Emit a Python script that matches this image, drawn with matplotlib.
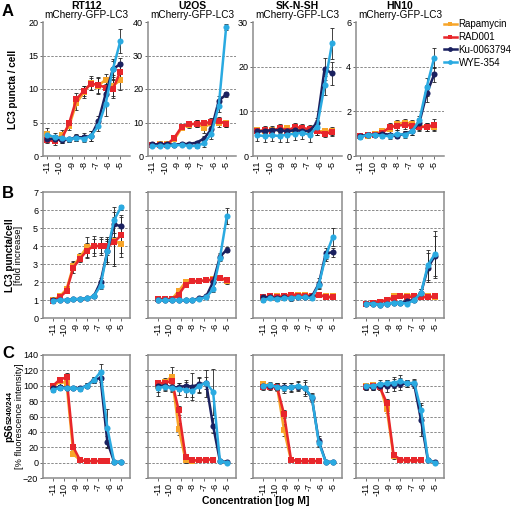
import numpy as np
import matplotlib.pyplot as plt
from matplotlib.lines import Line2D

plt.rcParams['font.family'] = ['Liberation Sans', 'DejaVu Sans']

# concentrations (log M), 4-fold dilution series
log_conc = [-11.0, -10.4, -9.8, -9.2, -8.6, -8.0, -7.4, -6.8, -6.2, -5.6, -5.0]
cell_lines = ['RT112', 'U2OS', 'SK-N-SH', 'HN10']
drugs = ['Rapamycin', 'RAD001', 'Ku-0063794', 'WYE-354']
colors = {'Rapamycin': '#F7A52A', 'RAD001': '#E8262B', 'Ku-0063794': '#1B2160', 'WYE-354': '#2AAAE1'}
markers = {'Rapamycin': 's', 'RAD001': 's', 'Ku-0063794': 'o', 'WYE-354': 'o'}

# --- A: LC3 puncta / cell ---
a_rt112 = {'Rapamycin': [3.3, 2.5, 3.1, 4.5, 7.9, 9.5, 10.9, 10.5, 11.4, 10.5, 11.3],
           'RAD001': [2.4, 2.2, 2.6, 4.9, 8.5, 9.7, 10.8, 10.6, 10.2, 10.0, 12.6],
           'Ku-0063794': [2.5, 2.6, 2.4, 2.5, 2.8, 2.8, 3.0, 5.2, 9.3, 13.0, 13.7],
           'WYE-354': [3.2, 2.8, 2.7, 2.5, 2.7, 2.6, 3.0, 4.5, 7.8, 13.0, 17.1]}
a_rt112_err = {'Rapamycin': [0.9, 0.6, 0.8, 0.6, 1.0, 0.9, 1.0, 1.2, 0.9, 1.6, 1.4],
               'RAD001': [0.4, 0.5, 0.6, 0.5, 0.9, 0.8, 0.9, 1.2, 1.0, 1.3, 1.5],
               'Ku-0063794': [0.4, 0.5, 0.5, 0.4, 0.5, 0.6, 0.7, 0.8, 1.5, 1.2, 1.0],
               'WYE-354': [0.6, 0.7, 0.5, 0.4, 0.5, 0.5, 0.8, 0.7, 1.8, 1.5, 1.8]}
a_u2os = {'Rapamycin': [3.4, 3.5, 3.6, 5.0, 8.5, 9.4, 9.7, 8.5, 9.8, 10.0, 9.8],
          'RAD001': [3.3, 3.4, 3.4, 5.5, 8.8, 9.5, 9.6, 9.8, 10.2, 10.5, 9.6],
          'Ku-0063794': [3.5, 3.5, 3.5, 3.4, 3.6, 3.6, 4.0, 5.2, 8.0, 16.5, 18.4],
          'WYE-354': [3.0, 3.0, 3.0, 3.2, 3.3, 3.0, 3.0, 3.8, 6.7, 15.0, 38.5]}
a_u2os_err = {'Rapamycin': [0.4, 0.4, 0.4, 0.6, 0.8, 0.9, 1.0, 1.5, 1.0, 1.2, 1.0],
              'RAD001': [0.3, 0.3, 0.3, 0.5, 0.7, 0.8, 1.0, 1.0, 1.2, 1.0, 1.0],
              'Ku-0063794': [0.4, 0.4, 0.4, 0.4, 0.5, 0.5, 0.6, 0.8, 1.2, 1.5, 0.8],
              'WYE-354': [0.4, 0.4, 0.4, 0.4, 0.4, 0.4, 0.5, 1.2, 1.5, 1.8, 0.8]}
a_sknsh = {'Rapamycin': [5.8, 5.5, 5.8, 6.0, 6.2, 5.8, 6.0, 5.8, 5.6, 5.5, 5.7],
           'RAD001': [5.5, 5.8, 5.6, 6.3, 5.6, 6.5, 6.3, 6.0, 5.5, 5.0, 5.3],
           'Ku-0063794': [5.5, 5.6, 5.8, 5.8, 5.5, 5.8, 5.6, 5.6, 7.5, 19.5, 18.5],
           'WYE-354': [4.6, 4.5, 4.6, 4.5, 4.8, 5.0, 5.2, 4.8, 6.6, 15.8, 25.2]}
a_sknsh_err = {'Rapamycin': [0.8, 0.9, 0.8, 0.9, 0.8, 0.9, 0.8, 0.9, 0.8, 0.8, 0.9],
               'RAD001': [0.8, 0.9, 0.8, 0.9, 0.8, 0.9, 0.8, 0.9, 0.8, 0.8, 0.9],
               'Ku-0063794': [0.8, 0.9, 0.9, 0.9, 0.9, 0.9, 0.9, 0.8, 1.0, 2.5, 2.5],
               'WYE-354': [1.2, 1.3, 1.2, 1.3, 1.6, 1.5, 1.3, 1.6, 1.4, 2.2, 3.5]}
a_hn10 = {'Rapamycin': [0.9, 0.9, 1.0, 1.1, 1.2, 1.45, 1.5, 1.45, 1.35, 1.3, 1.3],
          'RAD001': [0.9, 0.95, 0.95, 1.05, 1.3, 1.35, 1.4, 1.35, 1.3, 1.3, 1.4],
          'Ku-0063794': [0.9, 0.95, 0.95, 1.0, 0.95, 0.9, 1.0, 1.1, 1.5, 2.8, 3.65],
          'WYE-354': [0.85, 0.95, 0.95, 0.9, 0.9, 1.0, 0.95, 1.1, 1.6, 3.1, 4.4]}
a_hn10_err = {'Rapamycin': [0.1, 0.1, 0.1, 0.15, 0.15, 0.15, 0.15, 0.15, 0.2, 0.2, 0.2],
              'RAD001': [0.1, 0.1, 0.1, 0.15, 0.2, 0.2, 0.2, 0.2, 0.2, 0.2, 0.25],
              'Ku-0063794': [0.1, 0.1, 0.1, 0.1, 0.1, 0.1, 0.1, 0.15, 0.2, 0.4, 0.35],
              'WYE-354': [0.1, 0.1, 0.1, 0.1, 0.15, 0.15, 0.15, 0.15, 0.2, 0.4, 0.45]}

# --- B: LC3 puncta / cell, fold increase ---
b_rt112 = {'Rapamycin': [1.0, 1.2, 1.6, 2.9, 3.4, 3.95, 4.0, 4.0, 4.0, 4.3, 4.1],
           'RAD001': [0.95, 1.15, 1.5, 2.8, 3.3, 3.75, 4.0, 4.0, 4.0, 4.2, 4.6],
           'Ku-0063794': [1.0, 1.0, 1.0, 1.05, 1.05, 1.1, 1.2, 2.0, 3.7, 5.2, 5.1],
           'WYE-354': [0.95, 1.0, 1.0, 1.05, 1.05, 1.1, 1.2, 1.8, 3.7, 5.45, 6.15]}
b_rt112_err = {'Rapamycin': [0.05, 0.05, 0.1, 0.25, 0.2, 0.55, 0.55, 0.5, 0.5, 1.3, 0.7],
               'RAD001': [0.05, 0.05, 0.1, 0.3, 0.2, 0.4, 0.4, 0.4, 0.4, 1.3, 1.0],
               'Ku-0063794': [0.05, 0.05, 0.05, 0.05, 0.05, 0.05, 0.1, 0.2, 0.6, 0.7, 0.6],
               'WYE-354': [0.05, 0.05, 0.05, 0.05, 0.05, 0.05, 0.1, 0.2, 0.7, 0.7, 0.15]}
b_u2os = {'Rapamycin': [1.05, 1.05, 1.05, 1.5, 2.0, 2.05, 2.05, 2.1, 2.15, 2.2, 2.05],
          'RAD001': [1.05, 1.05, 1.05, 1.3, 1.85, 2.05, 2.05, 2.1, 2.1, 2.25, 2.1],
          'Ku-0063794': [1.0, 1.0, 1.0, 1.0, 0.98, 1.0, 1.1, 1.2, 2.0, 3.4, 3.8],
          'WYE-354': [0.98, 0.98, 1.0, 1.0, 1.0, 1.0, 1.05, 1.15, 1.6, 3.35, 5.65]}
b_u2os_err = {'Rapamycin': [0.05, 0.05, 0.05, 0.1, 0.1, 0.1, 0.1, 0.1, 0.1, 0.1, 0.15],
              'RAD001': [0.05, 0.05, 0.05, 0.1, 0.1, 0.1, 0.1, 0.1, 0.1, 0.1, 0.15],
              'Ku-0063794': [0.05, 0.05, 0.05, 0.05, 0.05, 0.05, 0.05, 0.1, 0.1, 0.2, 0.15],
              'WYE-354': [0.05, 0.05, 0.05, 0.05, 0.05, 0.05, 0.05, 0.1, 0.15, 0.2, 0.45]}
b_sknsh = {'Rapamycin': [1.1, 1.15, 1.2, 1.25, 1.3, 1.3, 1.3, 1.25, 1.3, 1.2, 1.2],
           'RAD001': [1.15, 1.2, 1.15, 1.2, 1.3, 1.25, 1.25, 1.2, 1.3, 1.15, 1.15],
           'Ku-0063794': [1.15, 1.15, 1.1, 1.15, 1.1, 1.15, 1.15, 1.2, 1.9, 3.6, 3.65],
           'WYE-354': [1.0, 1.1, 1.05, 1.1, 1.1, 1.15, 1.15, 1.1, 1.85, 3.45, 4.5]}
b_sknsh_err = {'Rapamycin': [0.1, 0.1, 0.1, 0.1, 0.1, 0.1, 0.1, 0.1, 0.1, 0.1, 0.1],
               'RAD001': [0.1, 0.1, 0.1, 0.1, 0.1, 0.1, 0.1, 0.1, 0.1, 0.1, 0.1],
               'Ku-0063794': [0.1, 0.1, 0.1, 0.1, 0.1, 0.1, 0.1, 0.1, 0.3, 0.3, 0.25],
               'WYE-354': [0.1, 0.1, 0.1, 0.1, 0.15, 0.1, 0.1, 0.1, 0.2, 0.3, 0.5]}
b_hn10 = {'Rapamycin': [0.8, 0.85, 0.9, 1.0, 1.2, 1.2, 1.25, 1.25, 1.2, 1.2, 1.15],
          'RAD001': [0.8, 0.85, 0.9, 1.0, 1.1, 1.2, 1.15, 1.2, 1.15, 1.15, 1.2],
          'Ku-0063794': [0.8, 0.8, 0.75, 0.8, 0.85, 0.85, 0.95, 1.0, 1.4, 2.8, 3.45],
          'WYE-354': [0.8, 0.8, 0.75, 0.8, 0.85, 0.85, 0.8, 1.0, 1.4, 2.95, 3.55]}
b_hn10_err = {'Rapamycin': [0.05, 0.05, 0.05, 0.1, 0.1, 0.1, 0.1, 0.1, 0.1, 0.1, 0.1],
              'RAD001': [0.05, 0.05, 0.05, 0.1, 0.1, 0.1, 0.1, 0.1, 0.1, 0.1, 0.1],
              'Ku-0063794': [0.05, 0.05, 0.05, 0.05, 0.1, 0.1, 0.1, 0.1, 0.2, 0.8, 1.1],
              'WYE-354': [0.05, 0.05, 0.05, 0.05, 0.1, 0.1, 0.1, 0.1, 0.2, 0.85, 1.3]}

# --- C: pS6 S240/244 (% fluorescence intensity); rapalogs tested up to -6.2 ---
c_rt112 = {'Rapamycin': [98, 106, 103, 11, 3, 2, 2, 2, 2],
           'RAD001': [100, 108, 111, 20, 3, 2, 2, 2, 2],
           'Ku-0063794': [97, 98, 97, 97, 97, 100, 108, 110, 27, 1, 1],
           'WYE-354': [95, 97, 97, 97, 96, 100, 107, 118, 45, 1, 1]}
c_rt112_err = {'Rapamycin': [3, 5, 4, 3, 1, 1, 1, 1, 1],
               'RAD001': [3, 4, 5, 4, 1, 1, 1, 1, 1],
               'Ku-0063794': [3, 3, 3, 3, 3, 3, 4, 5, 8, 1, 1],
               'WYE-354': [3, 3, 3, 3, 3, 3, 4, 10, 25, 1, 1]}
c_u2os = {'Rapamycin': [100, 105, 112, 44, 3, 2, 3, 4, 3],
          'RAD001': [103, 104, 106, 68, 7, 3, 3, 4, 4],
          'Ku-0063794': [100, 100, 98, 98, 100, 99, 102, 103, 48, 2, 1],
          'WYE-354': [97, 99, 97, 96, 95, 93, 100, 104, 92, 2, 0]}
c_u2os_err = {'Rapamycin': [8, 5, 12, 8, 3, 1, 1, 1, 1],
              'RAD001': [5, 5, 5, 6, 3, 1, 1, 1, 1],
              'Ku-0063794': [6, 5, 5, 5, 8, 18, 10, 18, 10, 2, 1],
              'WYE-354': [10, 6, 5, 8, 10, 8, 10, 8, 30, 2, 1]}
c_sknsh = {'Rapamycin': [102, 100, 99, 42, 3, 2, 2, 2, 2],
           'RAD001': [98, 98, 98, 63, 4, 2, 2, 2, 2],
           'Ku-0063794': [100, 100, 99, 98, 98, 99, 97, 84, 28, 1, 1],
           'WYE-354': [100, 101, 98, 97, 98, 100, 97, 85, 26, 1, 1]}
c_sknsh_err = {'Rapamycin': [4, 4, 4, 8, 2, 1, 1, 1, 1],
               'RAD001': [4, 4, 4, 5, 2, 1, 1, 1, 1],
               'Ku-0063794': [4, 4, 5, 5, 5, 6, 8, 5, 6, 1, 1],
               'WYE-354': [4, 4, 5, 6, 6, 6, 10, 5, 6, 1, 1]}
c_hn10 = {'Rapamycin': [100, 101, 100, 70, 8, 3, 3, 3, 3],
          'RAD001': [99, 100, 98, 78, 10, 4, 3, 3, 3],
          'Ku-0063794': [99, 99, 100, 100, 101, 102, 103, 102, 55, 3, 1],
          'WYE-354': [100, 100, 102, 103, 104, 106, 103, 104, 68, 4, 0]}
c_hn10_err = {'Rapamycin': [4, 4, 4, 5, 3, 1, 1, 1, 1],
              'RAD001': [4, 4, 4, 5, 3, 1, 1, 1, 1],
              'Ku-0063794': [4, 5, 5, 8, 8, 8, 5, 5, 20, 2, 1],
              'WYE-354': [4, 5, 5, 5, 7, 8, 5, 5, 10, 2, 1]}

rows = [
    [(a_rt112, a_rt112_err), (a_u2os, a_u2os_err), (a_sknsh, a_sknsh_err), (a_hn10, a_hn10_err)],
    [(b_rt112, b_rt112_err), (b_u2os, b_u2os_err), (b_sknsh, b_sknsh_err), (b_hn10, b_hn10_err)],
    [(c_rt112, c_rt112_err), (c_u2os, c_u2os_err), (c_sknsh, c_sknsh_err), (c_hn10, c_hn10_err)],
]
a_ylims = [(0, 20, 5), (0, 40, 10), (0, 30, 10), (0, 6, 2)]

W, H = 512, 509
fig = plt.figure(figsize=(W / 100, H / 100), dpi=100)

col_px = [(43, 130), (148, 236), (253, 342), (356, 444)]
row_px = [(22, 156), (192, 318), (355, 478)]

grid_kw = dict(color='#8a8a8a', linestyle=(0, (2.5, 1.5)), linewidth=0.7, zorder=0)
axes = []
for r, (top, bot) in enumerate(row_px):
    for c, (left, right) in enumerate(col_px):
        ax = fig.add_axes([left / W, 1 - bot / H, (right - left) / W, (bot - top) / H])
        axes.append(ax)
        mean, err = rows[r][c]
        for d in drugs:
            y = mean[d]
            x = log_conc[:len(y)]
            ax.errorbar(x, y, yerr=err[d], fmt='none', ecolor='#222222', elinewidth=0.6,
                        capsize=1.6, capthick=0.6, zorder=2)
            ax.plot(x, y, color=colors[d], marker=markers[d], markersize=4.4, linewidth=1.8,
                    markeredgewidth=0, zorder=3, label=d)

        if r == 0:
            lo, hi, step = a_ylims[c]
            ax.set_ylim(lo, hi)
            ax.set_yticks(np.arange(lo, hi + step / 2, step))
            ax.set_xlim(-11.35, -4.2)
            for v in np.arange(lo + step, hi, step):
                ax.axhline(v, **grid_kw)
            for s in ['top', 'right']:
                ax.spines[s].set_visible(False)
        else:
            if r == 1:
                ax.set_ylim(0, 7)
                ax.set_yticks(range(0, 8))
                gl = range(1, 7)
            else:
                ax.set_ylim(-20, 140)
                ax.set_yticks(range(-20, 141, 20))
                gl = range(0, 121, 20)
            for v in gl:
                ax.axhline(v, **grid_kw)
            ax.set_xlim(-11.88, -4.2)
            if c > 0:
                ax.tick_params(axis='y', length=0, labelleft=False)

        for s in ax.spines.values():
            s.set_color('#8c8c8c')
            s.set_linewidth(1.1)
        ax.set_xticks(range(-11, -4))
        ax.set_xticklabels([str(v) for v in range(-11, -4)], rotation=90)
        ax.tick_params(axis='both', labelsize=6.5, length=2, width=0.6, pad=1.5,
                       color='#555555', direction='out')

        if r == 0:
            cx = (left + right) / 2 / W
            fig.text(cx, 1 - 6 / H, cell_lines[c], ha='center', va='center',
                     fontsize=7.5, fontweight='bold')
            fig.text(cx, 1 - 15.5 / H, 'mCherry-GFP-LC3', ha='center', va='center', fontsize=7.2)

# panel letters
fig.text(2 / W, 1 - 11 / H, 'A', fontsize=12, fontweight='bold', va='center')
fig.text(2 / W, 1 - 193 / H, 'B', fontsize=12, fontweight='bold', va='center')
fig.text(2 / W, 1 - 354 / H, 'C', fontsize=12, fontweight='bold', va='center')

# y labels
fig.text(13 / W, 1 - 89 / H, 'LC3 puncta / cell', rotation=90, ha='center', va='center',
         fontsize=7.2, fontweight='bold')
fig.text(10 / W, 1 - 255 / H, 'LC3 puncta/cell', rotation=90, ha='center', va='center',
         fontsize=7.2, fontweight='bold')
fig.text(18.5 / W, 1 - 255 / H, '[fold increase]', rotation=90, ha='center', va='center',
         fontsize=6.8)
fig.text(9 / W, 1 - 433 / H, 'pS6', rotation=90, ha='center', va='center',
         fontsize=7.2, fontweight='bold')
fig.text(10.5 / W, 1 - 408 / H, 'S240/244', rotation=90, ha='center', va='center',
         fontsize=5.6, fontweight='bold')
fig.text(19.5 / W, 1 - 416 / H, '[% fluorescence intensity]', rotation=90, ha='center',
         va='center', fontsize=6.7)

fig.text(256 / W, 1 - 501 / H, 'Concentration [log M]', ha='center', va='center',
         fontsize=7.5, fontweight='bold')

handles = [Line2D([], [], color=colors[d], marker=markers[d], markersize=3.5, linewidth=1.8,
                  markeredgewidth=0) for d in drugs]
fig.legend(handles, drugs, loc='upper left', bbox_to_anchor=(444 / W, 1 - 19 / H),
           frameon=False, fontsize=7, handlelength=1.3, handletextpad=0.2,
           labelspacing=0.3, borderaxespad=0, borderpad=0)

fig.savefig('out.png', dpi=100)
